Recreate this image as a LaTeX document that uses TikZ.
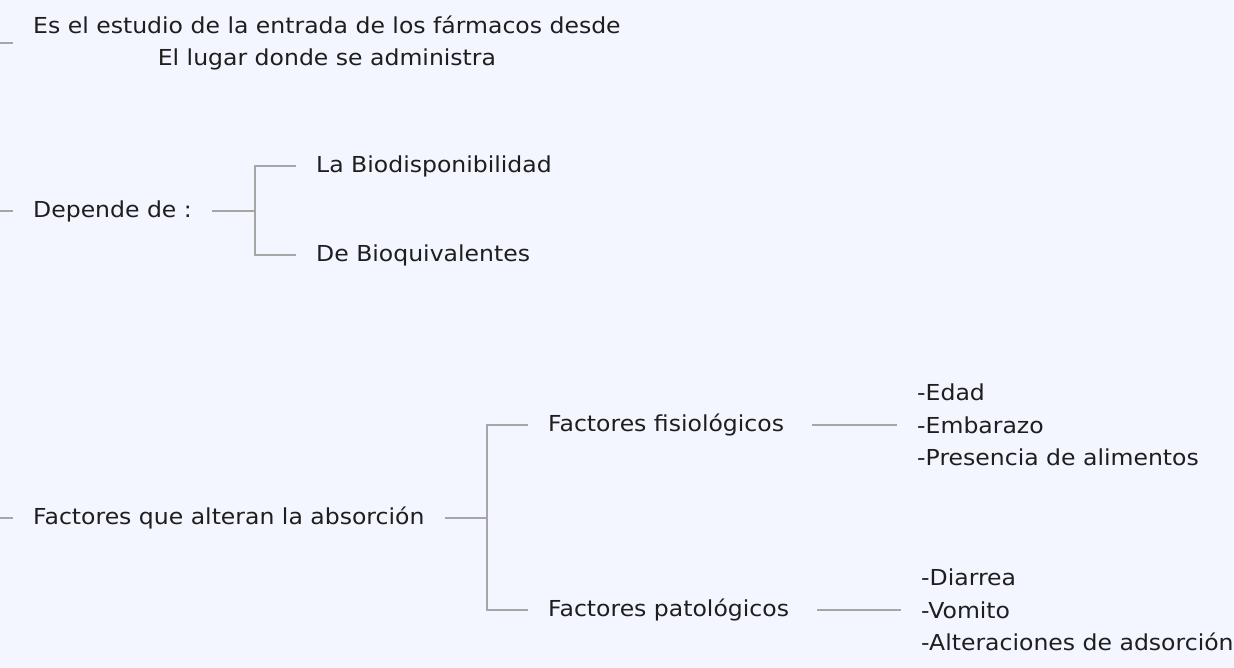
\documentclass[tikz,border=0pt]{standalone}
\usepackage{fontspec}
\setmainfont[FakeStretch=1.07]{DejaVu Sans}
\usetikzlibrary{positioning}
\definecolor{paper}{HTML}{F3F6FF}
\definecolor{inkgray}{HTML}{A6A6A6}
\definecolor{ink}{HTML}{1E1E1E}

\begin{document}
\begin{tikzpicture}[
  x=1pt, y=-1pt,
  topic/.style={inner xsep=20pt, inner ysep=0pt, anchor=west, text=ink,
                font=\fontsize{22}{32.5}\selectfont},
  link/.style={draw=inkgray, line width=1.6pt}
]
\fill[paper] (0,0) rectangle (1234,668);
\useasboundingbox (0,0) rectangle (1234,668);

% ramas del nodo central (fuera de la imagen)
\coordinate (root1) at (0,43);
\coordinate (root2) at (0,211);
\coordinate (root3) at (0,518);

\node[topic, align=center] (estudio) at (13,43) {Es el estudio de la entrada de los fármacos desde\\El lugar donde se administra};
\node[topic] (depende) at (13,211) {Depende de :};
\node[topic] (factores) at (13,518) {Factores que alteran la absorción};

\coordinate (forkdep) at (255,211);
\node[topic] (biodisp) at (296,166) {La Biodisponibilidad};
\node[topic] (bioeq) at (296,255) {De Bioquivalentes};

\coordinate (forkfac) at (487,518);
\node[topic] (fisio) at (528,425) {Factores fisiológicos};
\node[topic] (pato) at (528,610) {Factores patológicos};

\node[topic, align=left] (listfisio) at (897,425) {-Edad\\-Embarazo\\-Presencia de alimentos};
\node[topic, align=left] (listpato) at (901,610) {-Diarrea\\-Vomito\\-Alteraciones de adsorción};

\draw[link] (root1) -- (estudio.west);
\draw[link] (root2) -- (depende.west);
\draw[link] (root3) -- (factores.west);

\draw[link] (depende.east) -- (forkdep);
\draw[link] (biodisp.west) -| (forkdep) |- (bioeq.west);

\draw[link] (factores.east) -- (forkfac);
\draw[link] (fisio.west) -| (forkfac) |- (pato.west);

\draw[link] ([xshift=8pt]fisio.east) -- (listfisio.west);
\draw[link] ([xshift=8pt]pato.east) -- (listpato.west);
\end{tikzpicture}
\end{document}
